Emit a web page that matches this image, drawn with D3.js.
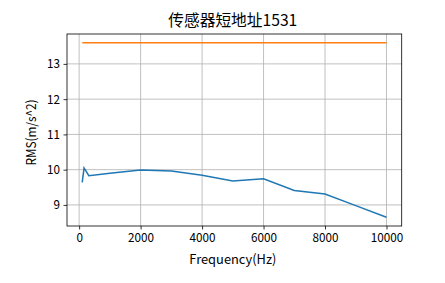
<!DOCTYPE html>
<html>
<head>
<meta charset="utf-8">
<script src="https://cdn.jsdelivr.net/npm/d3@7"></script>
<style>
  body { margin: 0; background: #fff; }
  text { font-family: "Noto Sans CJK SC", sans-serif; fill: #000; }
</style>
</head>
<body>
<div id="chart"></div>
<script>
// values
var freqs = [100, 160, 315, 1000, 2000, 3000, 4000, 5000, 6000, 7000, 8000, 9000, 10000];
var rmsValues = [9.64, 10.05, 9.83, 9.90, 9.99, 9.96, 9.84, 9.68, 9.74, 9.41, 9.31, 8.98, 8.65];
var limitValue = 13.6;
var xTicks = [0, 2000, 4000, 6000, 8000, 10000];
var yTicks = [9, 10, 11, 12, 13];
var title = "传感器短地址1531";
var xLabel = "Frequency(Hz)";
var yLabel = "RMS(m/s^2)";

var width = 445, height = 283;
var plot = {left: 67, right: 401.7, top: 34, bottom: 226};

var svg = d3.select("#chart").append("svg")
    .attr("width", width)
    .attr("height", height);

// matplotlib-style 5% margins
var xMin = d3.min(freqs), xMax = d3.max(freqs);
var xPad = (xMax - xMin) * 0.05;
var x = d3.scaleLinear()
    .domain([xMin - xPad, xMax + xPad])
    .range([plot.left, plot.right]);

var yLo = d3.min(rmsValues), yHi = Math.max(d3.max(rmsValues), limitValue);
var yPad = (yHi - yLo) * 0.05;
var y = d3.scaleLinear()
    .domain([yLo - yPad, yHi + yPad])
    .range([plot.bottom, plot.top]);

// grid
var grid = svg.append("g");
xTicks.forEach(function (t) {
    grid.append("line")
        .attr("x1", x(t)).attr("x2", x(t))
        .attr("y1", plot.top).attr("y2", plot.bottom)
        .style("stroke", "#b0b0b0").style("stroke-width", 0.8);
});
yTicks.forEach(function (t) {
    grid.append("line")
        .attr("x1", plot.left).attr("x2", plot.right)
        .attr("y1", y(t)).attr("y2", y(t))
        .style("stroke", "#b0b0b0").style("stroke-width", 0.8);
});

// lines
var line = d3.line()
    .x(function (d) { return x(d[0]); })
    .y(function (d) { return y(d[1]); });

svg.append("path")
    .datum(freqs.map(function (f, i) { return [f, rmsValues[i]]; }))
    .attr("d", line)
    .style("fill", "none")
    .style("stroke", "#1f77b4")
    .style("stroke-width", 1.5);

svg.append("path")
    .datum(freqs.map(function (f) { return [f, limitValue]; }))
    .attr("d", line)
    .style("fill", "none")
    .style("stroke", "#ff7f0e")
    .style("stroke-width", 1.6);

// axes
var xAxis = svg.append("g")
    .attr("transform", "translate(0," + plot.bottom + ")")
    .call(d3.axisBottom(x).tickValues(xTicks).tickSize(3.5).tickPadding(3.5).tickFormat(d3.format("d")));
var yAxis = svg.append("g")
    .attr("transform", "translate(" + plot.left + ",0)")
    .call(d3.axisLeft(y).tickValues(yTicks).tickSize(3.5).tickPadding(3.5).tickFormat(d3.format("d")));

[xAxis, yAxis].forEach(function (a) {
    a.select(".domain").remove();
    a.selectAll(".tick line").style("stroke", "#000").style("stroke-width", 0.8);
    a.selectAll(".tick text")
        .style("font-family", "'Noto Sans CJK SC', sans-serif")
        .style("font-size", "12.5px")
        .attr("textLength", function (d) { return String(d).length * 6.5; })
        .attr("lengthAdjust", "spacingAndGlyphs");
});

// frame
svg.append("rect")
    .attr("x", plot.left).attr("y", plot.top)
    .attr("width", plot.right - plot.left)
    .attr("height", plot.bottom - plot.top)
    .style("fill", "none")
    .style("stroke", "#000")
    .style("stroke-width", 0.8);

// labels
svg.append("text")
    .attr("x", (plot.left + plot.right) / 2 - 1.5)
    .attr("y", 26)
    .attr("text-anchor", "middle")
    .attr("textLength", 129)
    .attr("lengthAdjust", "spacingAndGlyphs")
    .style("font-size", "16px")
    .text(title);

svg.append("text")
    .attr("x", (plot.left + plot.right) / 2 - 1.5)
    .attr("y", 264)
    .attr("text-anchor", "middle")
    .attr("textLength", 87)
    .attr("lengthAdjust", "spacingAndGlyphs")
    .style("font-size", "13px")
    .text(xLabel);

svg.append("text")
    .attr("transform", "translate(35.5,132.5) rotate(-90)")
    .attr("text-anchor", "middle")
    .attr("textLength", 66)
    .attr("lengthAdjust", "spacingAndGlyphs")
    .style("font-size", "13px")
    .text(yLabel);
</script>
</body>
</html>
